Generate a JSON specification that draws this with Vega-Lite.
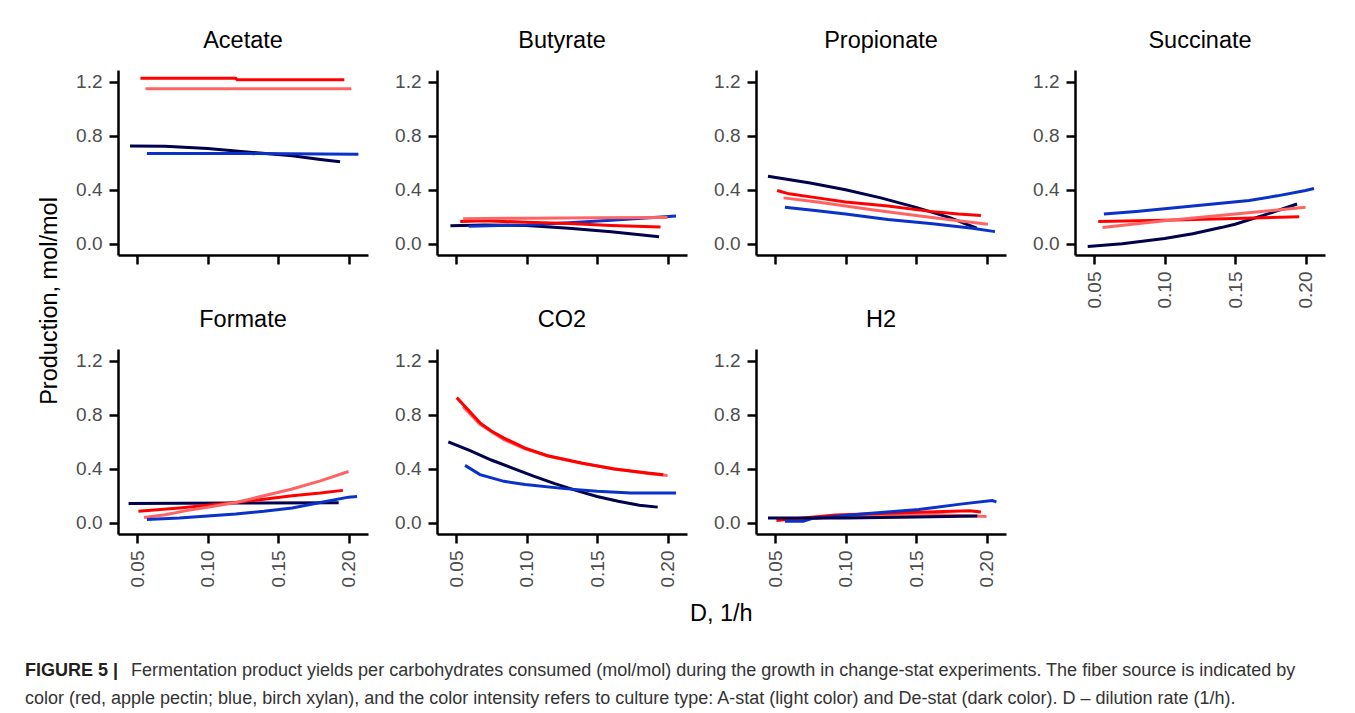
{
  "$schema": "https://vega.github.io/schema/vega-lite/v6.json",
  "padding": {"top": 28, "left": 25, "right": 5, "bottom": 0},
  "background": "white",
  "datasets": {
    "yields": [
      {"product":"Acetate","series":"De-stat pectin","D":0.0524,"yield":1.225},
      {"product":"Acetate","series":"De-stat pectin","D":0.12,"yield":1.225},
      {"product":"Acetate","series":"De-stat pectin","D":0.121,"yield":1.215},
      {"product":"Acetate","series":"De-stat pectin","D":0.197,"yield":1.215},
      {"product":"Acetate","series":"A-stat pectin","D":0.056,"yield":1.148},
      {"product":"Acetate","series":"A-stat pectin","D":0.202,"yield":1.148},
      {"product":"Acetate","series":"De-stat xylan","D":0.045,"yield":0.725},
      {"product":"Acetate","series":"De-stat xylan","D":0.07,"yield":0.722},
      {"product":"Acetate","series":"De-stat xylan","D":0.10,"yield":0.705},
      {"product":"Acetate","series":"De-stat xylan","D":0.13,"yield":0.678},
      {"product":"Acetate","series":"De-stat xylan","D":0.16,"yield":0.652},
      {"product":"Acetate","series":"De-stat xylan","D":0.18,"yield":0.625},
      {"product":"Acetate","series":"De-stat xylan","D":0.194,"yield":0.607},
      {"product":"Acetate","series":"A-stat xylan","D":0.057,"yield":0.668},
      {"product":"Acetate","series":"A-stat xylan","D":0.13,"yield":0.668},
      {"product":"Acetate","series":"A-stat xylan","D":0.207,"yield":0.663},

      {"product":"Butyrate","series":"De-stat xylan","D":0.046,"yield":0.133},
      {"product":"Butyrate","series":"De-stat xylan","D":0.07,"yield":0.14},
      {"product":"Butyrate","series":"De-stat xylan","D":0.10,"yield":0.135},
      {"product":"Butyrate","series":"De-stat xylan","D":0.13,"yield":0.115},
      {"product":"Butyrate","series":"De-stat xylan","D":0.16,"yield":0.09},
      {"product":"Butyrate","series":"De-stat xylan","D":0.194,"yield":0.053},
      {"product":"Butyrate","series":"A-stat xylan","D":0.059,"yield":0.13},
      {"product":"Butyrate","series":"A-stat xylan","D":0.08,"yield":0.135},
      {"product":"Butyrate","series":"A-stat xylan","D":0.10,"yield":0.14},
      {"product":"Butyrate","series":"A-stat xylan","D":0.13,"yield":0.155},
      {"product":"Butyrate","series":"A-stat xylan","D":0.16,"yield":0.175},
      {"product":"Butyrate","series":"A-stat xylan","D":0.19,"yield":0.195},
      {"product":"Butyrate","series":"A-stat xylan","D":0.206,"yield":0.205},
      {"product":"Butyrate","series":"De-stat pectin","D":0.053,"yield":0.165},
      {"product":"Butyrate","series":"De-stat pectin","D":0.07,"yield":0.17},
      {"product":"Butyrate","series":"De-stat pectin","D":0.10,"yield":0.16},
      {"product":"Butyrate","series":"De-stat pectin","D":0.13,"yield":0.15},
      {"product":"Butyrate","series":"De-stat pectin","D":0.16,"yield":0.135},
      {"product":"Butyrate","series":"De-stat pectin","D":0.195,"yield":0.125},
      {"product":"Butyrate","series":"A-stat pectin","D":0.055,"yield":0.185},
      {"product":"Butyrate","series":"A-stat pectin","D":0.10,"yield":0.19},
      {"product":"Butyrate","series":"A-stat pectin","D":0.15,"yield":0.193},
      {"product":"Butyrate","series":"A-stat pectin","D":0.20,"yield":0.195},

      {"product":"Propionate","series":"De-stat xylan","D":0.045,"yield":0.50},
      {"product":"Propionate","series":"De-stat xylan","D":0.075,"yield":0.45},
      {"product":"Propionate","series":"De-stat xylan","D":0.10,"yield":0.40},
      {"product":"Propionate","series":"De-stat xylan","D":0.125,"yield":0.34},
      {"product":"Propionate","series":"De-stat xylan","D":0.15,"yield":0.27},
      {"product":"Propionate","series":"De-stat xylan","D":0.175,"yield":0.19},
      {"product":"Propionate","series":"De-stat xylan","D":0.193,"yield":0.115},
      {"product":"Propionate","series":"De-stat pectin","D":0.0515,"yield":0.395},
      {"product":"Propionate","series":"De-stat pectin","D":0.06,"yield":0.37},
      {"product":"Propionate","series":"De-stat pectin","D":0.08,"yield":0.34},
      {"product":"Propionate","series":"De-stat pectin","D":0.10,"yield":0.31},
      {"product":"Propionate","series":"De-stat pectin","D":0.13,"yield":0.28},
      {"product":"Propionate","series":"De-stat pectin","D":0.16,"yield":0.24},
      {"product":"Propionate","series":"De-stat pectin","D":0.18,"yield":0.22},
      {"product":"Propionate","series":"De-stat pectin","D":0.196,"yield":0.21},
      {"product":"Propionate","series":"A-stat pectin","D":0.056,"yield":0.34},
      {"product":"Propionate","series":"A-stat pectin","D":0.08,"yield":0.31},
      {"product":"Propionate","series":"A-stat pectin","D":0.10,"yield":0.28},
      {"product":"Propionate","series":"A-stat pectin","D":0.12,"yield":0.25},
      {"product":"Propionate","series":"A-stat pectin","D":0.15,"yield":0.21},
      {"product":"Propionate","series":"A-stat pectin","D":0.18,"yield":0.17},
      {"product":"Propionate","series":"A-stat pectin","D":0.201,"yield":0.145},
      {"product":"Propionate","series":"A-stat xylan","D":0.057,"yield":0.27},
      {"product":"Propionate","series":"A-stat xylan","D":0.08,"yield":0.245},
      {"product":"Propionate","series":"A-stat xylan","D":0.10,"yield":0.22},
      {"product":"Propionate","series":"A-stat xylan","D":0.13,"yield":0.18},
      {"product":"Propionate","series":"A-stat xylan","D":0.16,"yield":0.15},
      {"product":"Propionate","series":"A-stat xylan","D":0.19,"yield":0.115},
      {"product":"Propionate","series":"A-stat xylan","D":0.206,"yield":0.09},

      {"product":"Succinate","series":"De-stat xylan","D":0.0455,"yield":-0.02},
      {"product":"Succinate","series":"De-stat xylan","D":0.07,"yield":0.0},
      {"product":"Succinate","series":"De-stat xylan","D":0.10,"yield":0.04},
      {"product":"Succinate","series":"De-stat xylan","D":0.12,"yield":0.075},
      {"product":"Succinate","series":"De-stat xylan","D":0.14,"yield":0.12},
      {"product":"Succinate","series":"De-stat xylan","D":0.15,"yield":0.145},
      {"product":"Succinate","series":"De-stat xylan","D":0.17,"yield":0.21},
      {"product":"Succinate","series":"De-stat xylan","D":0.194,"yield":0.295},
      {"product":"Succinate","series":"A-stat xylan","D":0.057,"yield":0.22},
      {"product":"Succinate","series":"A-stat xylan","D":0.08,"yield":0.24},
      {"product":"Succinate","series":"A-stat xylan","D":0.10,"yield":0.26},
      {"product":"Succinate","series":"A-stat xylan","D":0.12,"yield":0.28},
      {"product":"Succinate","series":"A-stat xylan","D":0.14,"yield":0.30},
      {"product":"Succinate","series":"A-stat xylan","D":0.16,"yield":0.32},
      {"product":"Succinate","series":"A-stat xylan","D":0.18,"yield":0.355},
      {"product":"Succinate","series":"A-stat xylan","D":0.20,"yield":0.395},
      {"product":"Succinate","series":"A-stat xylan","D":0.206,"yield":0.41},
      {"product":"Succinate","series":"De-stat pectin","D":0.053,"yield":0.165},
      {"product":"Succinate","series":"De-stat pectin","D":0.10,"yield":0.175},
      {"product":"Succinate","series":"De-stat pectin","D":0.15,"yield":0.188},
      {"product":"Succinate","series":"De-stat pectin","D":0.1955,"yield":0.20},
      {"product":"Succinate","series":"A-stat pectin","D":0.056,"yield":0.12},
      {"product":"Succinate","series":"A-stat pectin","D":0.10,"yield":0.17},
      {"product":"Succinate","series":"A-stat pectin","D":0.15,"yield":0.22},
      {"product":"Succinate","series":"A-stat pectin","D":0.20,"yield":0.27},

      {"product":"Formate","series":"De-stat xylan","D":0.044,"yield":0.143},
      {"product":"Formate","series":"De-stat xylan","D":0.12,"yield":0.146},
      {"product":"Formate","series":"De-stat xylan","D":0.193,"yield":0.148},
      {"product":"Formate","series":"De-stat pectin","D":0.051,"yield":0.086},
      {"product":"Formate","series":"De-stat pectin","D":0.08,"yield":0.11},
      {"product":"Formate","series":"De-stat pectin","D":0.10,"yield":0.13},
      {"product":"Formate","series":"De-stat pectin","D":0.12,"yield":0.15},
      {"product":"Formate","series":"De-stat pectin","D":0.14,"yield":0.175},
      {"product":"Formate","series":"De-stat pectin","D":0.16,"yield":0.20},
      {"product":"Formate","series":"De-stat pectin","D":0.18,"yield":0.22},
      {"product":"Formate","series":"De-stat pectin","D":0.196,"yield":0.24},
      {"product":"Formate","series":"A-stat pectin","D":0.055,"yield":0.04},
      {"product":"Formate","series":"A-stat pectin","D":0.07,"yield":0.06},
      {"product":"Formate","series":"A-stat pectin","D":0.085,"yield":0.09},
      {"product":"Formate","series":"A-stat pectin","D":0.10,"yield":0.115},
      {"product":"Formate","series":"A-stat pectin","D":0.12,"yield":0.15},
      {"product":"Formate","series":"A-stat pectin","D":0.14,"yield":0.20},
      {"product":"Formate","series":"A-stat pectin","D":0.16,"yield":0.25},
      {"product":"Formate","series":"A-stat pectin","D":0.18,"yield":0.31},
      {"product":"Formate","series":"A-stat pectin","D":0.20,"yield":0.38},
      {"product":"Formate","series":"A-stat xylan","D":0.057,"yield":0.025},
      {"product":"Formate","series":"A-stat xylan","D":0.08,"yield":0.035},
      {"product":"Formate","series":"A-stat xylan","D":0.10,"yield":0.05},
      {"product":"Formate","series":"A-stat xylan","D":0.12,"yield":0.065},
      {"product":"Formate","series":"A-stat xylan","D":0.14,"yield":0.085},
      {"product":"Formate","series":"A-stat xylan","D":0.16,"yield":0.11},
      {"product":"Formate","series":"A-stat xylan","D":0.18,"yield":0.15},
      {"product":"Formate","series":"A-stat xylan","D":0.20,"yield":0.19},
      {"product":"Formate","series":"A-stat xylan","D":0.206,"yield":0.195},

      {"product":"CO2","series":"A-stat pectin","D":0.055,"yield":0.86},
      {"product":"CO2","series":"A-stat pectin","D":0.067,"yield":0.73},
      {"product":"CO2","series":"A-stat pectin","D":0.084,"yield":0.615},
      {"product":"CO2","series":"A-stat pectin","D":0.099,"yield":0.548},
      {"product":"CO2","series":"A-stat pectin","D":0.115,"yield":0.495},
      {"product":"CO2","series":"A-stat pectin","D":0.139,"yield":0.44},
      {"product":"CO2","series":"A-stat pectin","D":0.162,"yield":0.40},
      {"product":"CO2","series":"A-stat pectin","D":0.186,"yield":0.365},
      {"product":"CO2","series":"A-stat pectin","D":0.20,"yield":0.35},
      {"product":"CO2","series":"De-stat pectin","D":0.0505,"yield":0.927},
      {"product":"CO2","series":"De-stat pectin","D":0.06,"yield":0.82},
      {"product":"CO2","series":"De-stat pectin","D":0.067,"yield":0.74},
      {"product":"CO2","series":"De-stat pectin","D":0.075,"yield":0.68},
      {"product":"CO2","series":"De-stat pectin","D":0.084,"yield":0.627},
      {"product":"CO2","series":"De-stat pectin","D":0.099,"yield":0.553},
      {"product":"CO2","series":"De-stat pectin","D":0.115,"yield":0.497},
      {"product":"CO2","series":"De-stat pectin","D":0.139,"yield":0.443},
      {"product":"CO2","series":"De-stat pectin","D":0.162,"yield":0.398},
      {"product":"CO2","series":"De-stat pectin","D":0.186,"yield":0.369},
      {"product":"CO2","series":"De-stat pectin","D":0.197,"yield":0.355},
      {"product":"CO2","series":"De-stat xylan","D":0.0445,"yield":0.60},
      {"product":"CO2","series":"De-stat xylan","D":0.06,"yield":0.535},
      {"product":"CO2","series":"De-stat xylan","D":0.075,"yield":0.465},
      {"product":"CO2","series":"De-stat xylan","D":0.09,"yield":0.405},
      {"product":"CO2","series":"De-stat xylan","D":0.105,"yield":0.345},
      {"product":"CO2","series":"De-stat xylan","D":0.12,"yield":0.29},
      {"product":"CO2","series":"De-stat xylan","D":0.135,"yield":0.24},
      {"product":"CO2","series":"De-stat xylan","D":0.15,"yield":0.195},
      {"product":"CO2","series":"De-stat xylan","D":0.165,"yield":0.16},
      {"product":"CO2","series":"De-stat xylan","D":0.18,"yield":0.13},
      {"product":"CO2","series":"De-stat xylan","D":0.193,"yield":0.116},
      {"product":"CO2","series":"A-stat xylan","D":0.0564,"yield":0.425},
      {"product":"CO2","series":"A-stat xylan","D":0.067,"yield":0.357},
      {"product":"CO2","series":"A-stat xylan","D":0.084,"yield":0.307},
      {"product":"CO2","series":"A-stat xylan","D":0.099,"yield":0.283},
      {"product":"CO2","series":"A-stat xylan","D":0.127,"yield":0.253},
      {"product":"CO2","series":"A-stat xylan","D":0.15,"yield":0.234},
      {"product":"CO2","series":"A-stat xylan","D":0.174,"yield":0.221},
      {"product":"CO2","series":"A-stat xylan","D":0.206,"yield":0.221},

      {"product":"H2","series":"A-stat pectin","D":0.055,"yield":0.025},
      {"product":"H2","series":"A-stat pectin","D":0.116,"yield":0.05},
      {"product":"H2","series":"A-stat pectin","D":0.164,"yield":0.061},
      {"product":"H2","series":"A-stat pectin","D":0.20,"yield":0.047},
      {"product":"H2","series":"De-stat pectin","D":0.051,"yield":0.017},
      {"product":"H2","series":"De-stat pectin","D":0.093,"yield":0.057},
      {"product":"H2","series":"De-stat pectin","D":0.14,"yield":0.074},
      {"product":"H2","series":"De-stat pectin","D":0.188,"yield":0.09},
      {"product":"H2","series":"De-stat pectin","D":0.196,"yield":0.08},
      {"product":"H2","series":"A-stat xylan","D":0.057,"yield":0.012},
      {"product":"H2","series":"A-stat xylan","D":0.07,"yield":0.012},
      {"product":"H2","series":"A-stat xylan","D":0.076,"yield":0.032},
      {"product":"H2","series":"A-stat xylan","D":0.116,"yield":0.069},
      {"product":"H2","series":"A-stat xylan","D":0.152,"yield":0.098},
      {"product":"H2","series":"A-stat xylan","D":0.183,"yield":0.14},
      {"product":"H2","series":"A-stat xylan","D":0.204,"yield":0.165},
      {"product":"H2","series":"A-stat xylan","D":0.207,"yield":0.155},
      {"product":"H2","series":"De-stat xylan","D":0.045,"yield":0.035},
      {"product":"H2","series":"De-stat xylan","D":0.10,"yield":0.035},
      {"product":"H2","series":"De-stat xylan","D":0.15,"yield":0.042},
      {"product":"H2","series":"De-stat xylan","D":0.1935,"yield":0.05}
    ],
    "caption": [
      {"line": 1, "lead": "FIGURE 5 |", "text": "Fermentation product yields per carbohydrates consumed (mol/mol) during the growth in change-stat experiments. The fiber source is indicated by"},
      {"line": 2, "lead": "", "text": "color (red, apple pectin; blue, birch xylan), and the color intensity refers to culture type: A-stat (light color) and De-stat (dark color). D – dilution rate (1/h)."}
    ]
  },
  "vconcat": [
    {
      "title": {"text": "Production, mol/mol", "orient": "left", "anchor": "middle", "fontSize": 23.5, "fontWeight": "normal", "color": "#000000", "offset": 14, "dx": 26},
      "vconcat": [
        {
          "title": {"text": "D, 1/h", "orient": "bottom", "anchor": "middle", "fontSize": 23.5, "fontWeight": "normal", "color": "#000000", "offset": 15, "dx": 21},
          "data": {"name": "yields"},
          "columns": 4,
          "bounds": "flush",
          "spacing": {"row": 94, "column": 69},
          "concat": [
            {"title": "Acetate", "width": 250, "height": 185,
             "transform": [{"filter": "datum.product === 'Acetate'"}],
             "mark": {"type": "line", "strokeWidth": 3},
             "encoding": {
               "x": {"field": "D", "type": "quantitative", "scale": {"domain": [0.0365, 0.2138], "nice": false, "zero": false}, "axis": {"values": [0.05, 0.1, 0.15, 0.2], "format": ".2f", "title": null, "labelAngle": 270, "labels": false}},
               "y": {"field": "yield", "type": "quantitative", "scale": {"domain": [-0.083, 1.287], "nice": false, "zero": false}, "axis": {"values": [0, 0.4, 0.8, 1.2], "format": ".1f", "title": null}},
               "color": {"field": "series", "type": "nominal", "scale": {"domain": ["A-stat xylan", "De-stat xylan", "A-stat pectin", "De-stat pectin"], "range": ["#0a32c8", "#00004d", "#ff6464", "#ff0000"]}, "legend": null}
             }},
            {"title": "Butyrate", "width": 250, "height": 185,
             "transform": [{"filter": "datum.product === 'Butyrate'"}],
             "mark": {"type": "line", "strokeWidth": 3},
             "encoding": {
               "x": {"field": "D", "type": "quantitative", "scale": {"domain": [0.0365, 0.2138], "nice": false, "zero": false}, "axis": {"values": [0.05, 0.1, 0.15, 0.2], "format": ".2f", "title": null, "labelAngle": 270, "labels": false}},
               "y": {"field": "yield", "type": "quantitative", "scale": {"domain": [-0.083, 1.287], "nice": false, "zero": false}, "axis": {"values": [0, 0.4, 0.8, 1.2], "format": ".1f", "title": null}},
               "color": {"field": "series", "type": "nominal", "scale": {"domain": ["A-stat xylan", "De-stat xylan", "A-stat pectin", "De-stat pectin"], "range": ["#0a32c8", "#00004d", "#ff6464", "#ff0000"]}, "legend": null}
             }},
            {"title": "Propionate", "width": 250, "height": 185,
             "transform": [{"filter": "datum.product === 'Propionate'"}],
             "mark": {"type": "line", "strokeWidth": 3},
             "encoding": {
               "x": {"field": "D", "type": "quantitative", "scale": {"domain": [0.0365, 0.2138], "nice": false, "zero": false}, "axis": {"values": [0.05, 0.1, 0.15, 0.2], "format": ".2f", "title": null, "labelAngle": 270, "labels": false}},
               "y": {"field": "yield", "type": "quantitative", "scale": {"domain": [-0.083, 1.287], "nice": false, "zero": false}, "axis": {"values": [0, 0.4, 0.8, 1.2], "format": ".1f", "title": null}},
               "color": {"field": "series", "type": "nominal", "scale": {"domain": ["A-stat xylan", "De-stat xylan", "A-stat pectin", "De-stat pectin"], "range": ["#0a32c8", "#00004d", "#ff6464", "#ff0000"]}, "legend": null}
             }},
            {"title": "Succinate", "width": 250, "height": 185,
             "transform": [{"filter": "datum.product === 'Succinate'"}],
             "mark": {"type": "line", "strokeWidth": 3},
             "encoding": {
               "x": {"field": "D", "type": "quantitative", "scale": {"domain": [0.0365, 0.2138], "nice": false, "zero": false}, "axis": {"values": [0.05, 0.1, 0.15, 0.2], "format": ".2f", "title": null, "labelAngle": 270}},
               "y": {"field": "yield", "type": "quantitative", "scale": {"domain": [-0.083, 1.287], "nice": false, "zero": false}, "axis": {"values": [0, 0.4, 0.8, 1.2], "format": ".1f", "title": null}},
               "color": {"field": "series", "type": "nominal", "scale": {"domain": ["A-stat xylan", "De-stat xylan", "A-stat pectin", "De-stat pectin"], "range": ["#0a32c8", "#00004d", "#ff6464", "#ff0000"]}, "legend": null}
             }},
            {"title": "Formate", "width": 250, "height": 185,
             "transform": [{"filter": "datum.product === 'Formate'"}],
             "mark": {"type": "line", "strokeWidth": 3},
             "encoding": {
               "x": {"field": "D", "type": "quantitative", "scale": {"domain": [0.0365, 0.2138], "nice": false, "zero": false}, "axis": {"values": [0.05, 0.1, 0.15, 0.2], "format": ".2f", "title": null, "labelAngle": 270}},
               "y": {"field": "yield", "type": "quantitative", "scale": {"domain": [-0.083, 1.287], "nice": false, "zero": false}, "axis": {"values": [0, 0.4, 0.8, 1.2], "format": ".1f", "title": null}},
               "color": {"field": "series", "type": "nominal", "scale": {"domain": ["A-stat xylan", "De-stat xylan", "A-stat pectin", "De-stat pectin"], "range": ["#0a32c8", "#00004d", "#ff6464", "#ff0000"]}, "legend": null}
             }},
            {"title": "CO2", "width": 250, "height": 185,
             "transform": [{"filter": "datum.product === 'CO2'"}],
             "mark": {"type": "line", "strokeWidth": 3},
             "encoding": {
               "x": {"field": "D", "type": "quantitative", "scale": {"domain": [0.0365, 0.2138], "nice": false, "zero": false}, "axis": {"values": [0.05, 0.1, 0.15, 0.2], "format": ".2f", "title": null, "labelAngle": 270}},
               "y": {"field": "yield", "type": "quantitative", "scale": {"domain": [-0.083, 1.287], "nice": false, "zero": false}, "axis": {"values": [0, 0.4, 0.8, 1.2], "format": ".1f", "title": null}},
               "color": {"field": "series", "type": "nominal", "scale": {"domain": ["A-stat xylan", "De-stat xylan", "A-stat pectin", "De-stat pectin"], "range": ["#0a32c8", "#00004d", "#ff6464", "#ff0000"]}, "legend": null}
             }},
            {"title": "H2", "width": 250, "height": 185,
             "transform": [{"filter": "datum.product === 'H2'"}],
             "mark": {"type": "line", "strokeWidth": 3},
             "encoding": {
               "x": {"field": "D", "type": "quantitative", "scale": {"domain": [0.0365, 0.2138], "nice": false, "zero": false}, "axis": {"values": [0.05, 0.1, 0.15, 0.2], "format": ".2f", "title": null, "labelAngle": 270}},
               "y": {"field": "yield", "type": "quantitative", "scale": {"domain": [-0.083, 1.287], "nice": false, "zero": false}, "axis": {"values": [0, 0.4, 0.8, 1.2], "format": ".1f", "title": null}},
               "color": {"field": "series", "type": "nominal", "scale": {"domain": ["A-stat xylan", "De-stat xylan", "A-stat pectin", "De-stat pectin"], "range": ["#0a32c8", "#00004d", "#ff6464", "#ff0000"]}, "legend": null}
             }}
          ]
        }
      ]
    },
    {
      "data": {"name": "caption"},
      "width": 1320,
      "height": 28,
      "layer": [
        {
          "transform": [{"filter": "datum.line === 1"}],
          "mark": {"type": "text", "align": "left", "baseline": "alphabetic", "fontSize": 18, "fontWeight": "bold", "color": "#231f20", "font": "Liberation Sans"},
          "encoding": {
            "x": {"value": -93},
            "y": {"field": "line", "type": "ordinal", "scale": {"padding": 0}, "axis": null},
            "text": {"field": "lead"}
          }
        },
        {
          "transform": [{"filter": "datum.line === 1"}],
          "mark": {"type": "text", "align": "left", "baseline": "alphabetic", "fontSize": 18, "color": "#333333", "font": "Liberation Sans", "dx": 106},
          "encoding": {
            "x": {"value": -93},
            "y": {"field": "line", "type": "ordinal", "scale": {"padding": 0}, "axis": null},
            "text": {"field": "text"}
          }
        },
        {
          "transform": [{"filter": "datum.line === 2"}],
          "mark": {"type": "text", "align": "left", "baseline": "alphabetic", "fontSize": 18, "color": "#333333", "font": "Liberation Sans"},
          "encoding": {
            "x": {"value": -93},
            "y": {"field": "line", "type": "ordinal", "scale": {"padding": 0}, "axis": null},
            "text": {"field": "text"}
          }
        }
      ]
    }
  ],
  "spacing": 36,
  "config": {
    "font": "Liberation Sans",
    "view": {"stroke": null},
    "title": {"fontSize": 23.5, "fontWeight": "normal", "color": "#000000", "font": "Liberation Sans", "offset": 18},
    "axis": {
      "grid": false,
      "domainColor": "#000000",
      "domainWidth": 2.5,
      "tickColor": "#000000",
      "tickWidth": 2.5,
      "tickSize": 9,
      "labelFontSize": 19,
      "labelColor": "#4d4d4d",
      "labelFont": "Liberation Sans",
      "labelPadding": 7
    }
  }
}
